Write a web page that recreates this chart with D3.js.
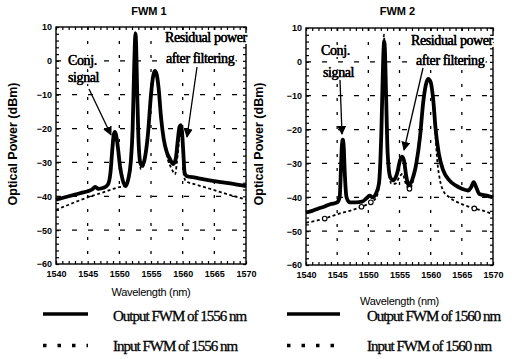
<!DOCTYPE html>
<html>
<head>
<meta charset="utf-8">
<script src="https://cdn.jsdelivr.net/npm/d3@7"></script>
<style>
  body { margin: 0; background: #fff; }
  text { fill: #000; }
</style>
</head>
<body>
<div id="d3_viz"></div>
<script>
// wavelength (nm), power (dBm)
let fwm1Output = [[1540,-41],[1541,-40.5],[1542,-40],[1543,-39.5],[1544,-39],[1545,-38.5],[1545.7,-38],[1546.2,-37.2],
  [1546.7,-37.8],[1547.5,-37.5],[1548.2,-36.5],[1548.6,-33],[1548.9,-26],[1549.1,-22],[1549.3,-21],[1549.5,-22],
  [1549.8,-26],[1550.1,-31],[1550.5,-35],[1551,-37],[1551.4,-35],[1551.8,-30],[1552.1,-20],[1552.3,-5],[1552.45,5],
  [1552.55,8],[1552.65,5],[1552.8,-8],[1553,-22],[1553.3,-30],[1553.6,-31],[1554,-29],[1554.5,-22],[1555,-10],
  [1555.3,-5],[1555.6,-3],[1555.9,-4],[1556.2,-8],[1556.6,-17],[1557,-23],[1557.5,-27],[1558,-29],[1558.5,-30.5],
  [1558.9,-29],[1559.2,-24],[1559.5,-19.5],[1559.7,-19],[1559.9,-21],[1560.1,-27],[1560.3,-33],[1560.6,-34],
  [1562,-34.5],[1564,-35.2],[1566,-35.8],[1568,-36.3],[1570,-37]];
let fwm1Input = [[1540,-44],[1542,-42.5],[1544,-41],[1546,-39.7],[1548,-38.5],[1549,-37.8],[1550,-37.3],[1551,-36.8],
  [1551.6,-34],[1552,-25],[1552.3,-5],[1552.5,8.5],[1552.7,4],[1552.9,-10],[1553.1,-25],[1553.4,-32],[1553.8,-31],
  [1554.4,-24],[1555,-10],[1555.6,-3],[1556.2,-8],[1556.8,-20],[1557.5,-28],[1558.3,-32],[1558.8,-33.5],[1559.2,-28],
  [1559.6,-22],[1559.9,-23],[1560.2,-34],[1560.5,-35.5],[1562,-36.5],[1564,-37.6],[1566,-38.8],[1568,-39.9],[1570,-41]];
let fwm2Output = [[1540,-44.5],[1541,-44],[1542,-43.3],[1543,-42.7],[1544,-42],[1545,-41.5],[1545.4,-40],[1545.6,-32],
  [1545.75,-25],[1545.9,-23],[1546.05,-25],[1546.2,-32],[1546.5,-40],[1547,-41.5],[1548,-41.5],[1549,-41.3],
  [1549.7,-40.3],[1550.2,-39.5],[1550.7,-40],[1551.2,-39],[1551.7,-36],[1552.1,-20],[1552.3,-5],[1552.45,4],
  [1552.55,6],[1552.65,4],[1552.85,-10],[1553.1,-27],[1553.5,-34],[1554,-35],[1554.6,-33],[1555.1,-29],[1555.4,-28],
  [1555.7,-29],[1556.1,-34],[1556.5,-36.5],[1557,-35],[1557.7,-30],[1558.3,-22],[1558.8,-12],[1559.2,-7],[1559.6,-5],
  [1560,-6],[1560.4,-11],[1560.8,-20],[1561.3,-27],[1562,-32],[1563,-35],[1564,-36.5],[1565,-37.5],[1566,-38],
  [1566.5,-37],[1566.9,-35.5],[1567.3,-37],[1567.8,-39],[1569,-39.5],[1570,-40]];
let fwm2Input = [[1540,-47.5],[1541.5,-47],[1543,-46.3],[1545,-45],[1547,-44],[1548.9,-42.8],[1550.4,-41.5],[1551.3,-40],
  [1551.8,-35],[1552.1,-20],[1552.35,0],[1552.5,8],[1552.65,2],[1552.9,-15],[1553.2,-30],[1553.7,-36],[1554.3,-36],
  [1555,-34],[1555.5,-33],[1556,-36],[1556.6,-37.5],[1557.2,-35],[1557.8,-28],[1558.5,-18],[1559,-9],[1559.6,-5],
  [1560.1,-7],[1560.6,-17],[1561.1,-30],[1561.5,-35],[1562,-38],[1563,-40],[1565,-42],[1567,-43.3],[1568.5,-44],[1570,-45]];
let fwm2Markers = [[1543,-46.3],[1548.9,-42.8],[1550.4,-41.5],[1556.6,-37.5],[1567,-43.3]];

let xTicks = [1540, 1545, 1550, 1555, 1560, 1565, 1570];
let yTicks = [-60, -50, -40, -30, -20, -10, 0, 10];
let titles = ['FWM 1', 'FWM 2'];
let legendLabels = [['Output FWM of 1556 nm', 'Input FWM of 1556 nm'], ['Output FWM of 1560 nm', 'Input FWM of 1560 nm']];

let W = 512, H = 359;
let svg = d3.select('#d3_viz').append('svg')
  .attr('width', W).attr('height', H)
  .style('font-family', 'Liberation Sans, Arial, sans-serif');
svg.append('rect').attr('width', W).attr('height', H).attr('fill', '#fff');

let serif = 'Liberation Serif, Times New Roman, serif';

// one panel
function panel(p) {
  let x = d3.scaleLinear().domain([1540, 1570]).range([p.left, p.right]);
  let y = d3.scaleLinear().domain([-60, 10]).range([p.bottom, p.top]);
  let g = svg.append('g');

  // dashed grid
  g.selectAll('.vg').data(xTicks.slice(1, -1)).enter().append('line')
    .attr('x1', d => x(d)).attr('x2', d => x(d)).attr('y1', p.top).attr('y2', p.bottom)
    .attr('stroke', '#000').attr('stroke-width', 1.3).attr('stroke-dasharray', '3,11');
  g.selectAll('.hg').data(yTicks.slice(1, -1)).enter().append('line')
    .attr('y1', d => y(d)).attr('y2', d => y(d)).attr('x1', p.left).attr('x2', p.right)
    .attr('stroke', '#000').attr('stroke-width', 1.3).attr('stroke-dasharray', '5,11');

  // minor ticks, pointing inward on all sides
  let minorX = d3.range(1540, 1571, 1), minorY = d3.range(-60, 11, 2);
  let axes = [
    [d3.axisBottom(x).tickValues(minorX).tickSize(-3), 'translate(0,' + p.bottom + ')'],
    [d3.axisTop(x).tickValues(minorX).tickSize(-3), 'translate(0,' + p.top + ')'],
    [d3.axisLeft(y).tickValues(minorY).tickSize(-3), 'translate(' + p.left + ',0)'],
    [d3.axisRight(y).tickValues(minorY).tickSize(-3), 'translate(' + p.right + ',0)']
  ];
  axes.forEach(a => {
    let ax = g.append('g').attr('transform', a[1]).call(a[0].tickFormat(''));
    ax.select('.domain').remove();
    ax.selectAll('line').attr('stroke-width', 1.2);
  });

  // tick labels
  let xl = g.append('g').attr('transform', 'translate(0,' + p.bottom + ')')
    .call(d3.axisBottom(x).tickValues(xTicks).tickFormat(d3.format('d')).tickSize(0).tickPadding(7));
  let yl = g.append('g').attr('transform', 'translate(' + p.left + ',0)')
    .call(d3.axisLeft(y).tickValues(yTicks).tickFormat(d3.format('d')).tickSize(0).tickPadding(4));
  [xl, yl].forEach(ax => {
    ax.select('.domain').remove();
    ax.selectAll('text').attr('font-family', 'Liberation Sans, Arial, sans-serif')
      .attr('font-size', 9).attr('font-weight', 'bold').attr('fill', '#000');
  });

  // frame
  g.append('rect').attr('x', p.left).attr('y', p.top)
    .attr('width', p.right - p.left).attr('height', p.bottom - p.top)
    .attr('fill', 'none').attr('stroke', '#000').attr('stroke-width', 1.4);

  // spectra
  let line = d3.line().x(d => x(d[0])).y(d => y(d[1])).curve(d3.curveMonotoneX);
  g.append('path').datum(p.input).attr('d', line)
    .attr('fill', 'none').attr('stroke', '#000').attr('stroke-width', 1.8).attr('stroke-dasharray', '3,2.5');
  g.append('path').datum(p.output).attr('d', line)
    .attr('fill', 'none').attr('stroke', '#000').attr('stroke-width', 3.8).attr('stroke-linejoin', 'round');
  g.selectAll('.mk').data(p.markers).enter().append('circle')
    .attr('cx', d => x(d[0])).attr('cy', d => y(d[1])).attr('r', 2.3)
    .attr('fill', '#fff').attr('stroke', '#000').attr('stroke-width', 1.1);

  // titles and axis labels
  g.append('text').attr('x', (p.left + p.right) / 2 - 2).attr('y', 15)
    .attr('text-anchor', 'middle').attr('font-size', 11).attr('font-weight', 'bold').text(p.title);
  g.append('text').attr('x', (p.left + p.right) / 2).attr('y', p.xlabY)
    .attr('text-anchor', 'middle').attr('font-size', 11).attr('letter-spacing', -0.3).text('Wavelength (nm)');
  g.append('text').attr('transform', 'translate(' + p.ylabX + ',144) rotate(-90)')
    .attr('text-anchor', 'middle').attr('font-size', 12.5).attr('font-weight', 'bold').text('Optical Power (dBm)');

  // annotations (white halo hides the grid behind the words)
  p.notes.forEach(n => {
    g.append('text').attr('x', n[0]).attr('y', n[1]).attr('font-family', serif)
      .attr('font-size', 14).attr('letter-spacing', -0.4)
      .attr('stroke', '#fff').attr('stroke-width', 4).attr('paint-order', 'stroke')
      .text(n[2]);
    g.append('text').attr('x', n[0]).attr('y', n[1]).attr('font-family', serif)
      .attr('font-size', 14).attr('letter-spacing', -0.4)
      .attr('stroke', '#000').attr('stroke-width', 0.35)
      .text(n[2]);
  });
  p.arrows.forEach(a => {
    g.append('line').attr('x1', a[0]).attr('y1', a[1]).attr('x2', a[2]).attr('y2', a[3])
      .attr('stroke', '#000').attr('stroke-width', 1.3).attr('marker-end', 'url(#arr)');
  });

  // legend
  let lg = svg.append('g');
  lg.append('line').attr('x1', p.legX).attr('x2', p.legX + p.legW).attr('y1', 314).attr('y2', 314)
    .attr('stroke', '#000').attr('stroke-width', 3.5);
  lg.append('line').attr('x1', p.legX).attr('x2', p.legX + p.legW).attr('y1', 345.5).attr('y2', 345.5)
    .attr('stroke', '#000').attr('stroke-width', 3.5).attr('stroke-dasharray', '3.5,11');
  lg.selectAll('text').data(p.legend).enter().append('text')
    .attr('x', p.legTextX).attr('y', (d, i) => 321 + i * 30)
    .attr('font-family', serif).attr('font-size', 15).attr('letter-spacing', -1)
    .attr('stroke', '#000').attr('stroke-width', 0.3)
    .text(d => d);
}

svg.append('defs').append('marker').attr('id', 'arr')
  .attr('viewBox', '0 0 10 10').attr('refX', 9).attr('refY', 5)
  .attr('markerWidth', 7).attr('markerHeight', 7).attr('orient', 'auto')
  .append('path').attr('d', 'M0,0 L10,5 L0,10 z').attr('fill', '#000');

panel({
  left: 56, right: 246, top: 27, bottom: 264, title: titles[0],
  output: fwm1Output, input: fwm1Input, markers: [],
  xlabY: 296, ylabX: 17,
  notes: [[68, 65, 'Conj.'], [68, 82, 'signal'], [165, 42, 'Residual power'], [166, 63, 'after filtering']],
  arrows: [[89, 89, 111, 135], [197, 67, 187, 137]],
  legend: legendLabels[0], legX: 43, legW: 45, legTextX: 113
});
panel({
  left: 306, right: 493, top: 28, bottom: 265, title: titles[1],
  output: fwm2Output, input: fwm2Input, markers: fwm2Markers,
  xlabY: 305, ylabX: 263,
  notes: [[321, 55, 'Conj.'], [323, 77, 'signal'], [411, 45, 'Residual power'], [416, 65, 'after filtering']],
  arrows: [[340, 80, 342, 134], [423, 68, 404, 150]],
  legend: legendLabels[1], legX: 287, legW: 53, legTextX: 367
});
</script>
</body>
</html>
